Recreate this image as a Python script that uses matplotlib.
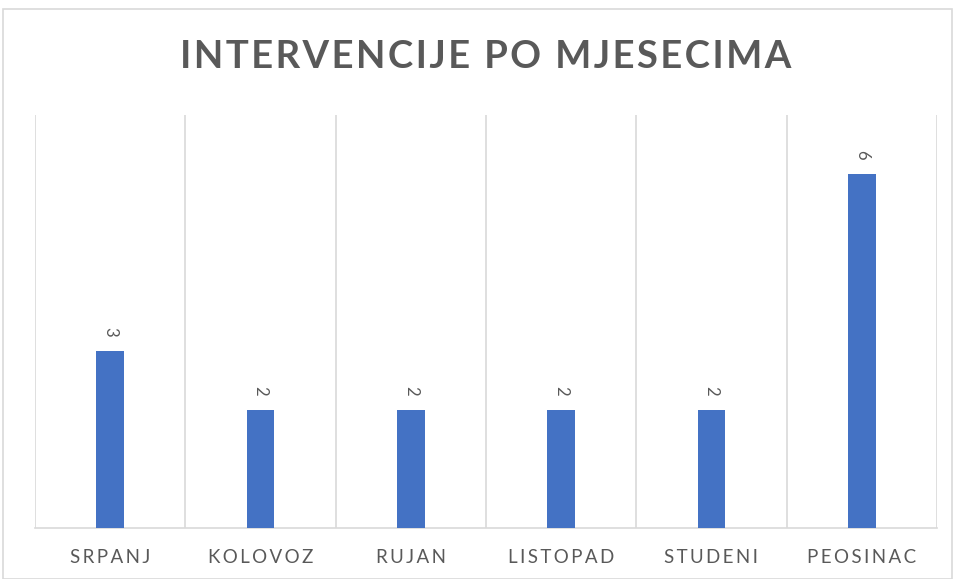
import matplotlib
matplotlib.use("Agg")
import matplotlib.pyplot as plt
from matplotlib.patches import Rectangle

months = ["SRPANJ", "KOLOVOZ", "RUJAN", "LISTOPAD", "STUDENI", "PEOSINAC"]
values = [3, 2, 2, 2, 2, 6]
title = "INTERVENCIJE PO MJESECIMA"

plt.rcParams['font.family'] = ['Lato', 'DejaVu Sans']

def spaced(s, sep="\u2009"):
    return sep.join(s)

fig = plt.figure(figsize=(9.55, 5.79), dpi=100)
fig.patches.append(Rectangle((3/955, 0), 949/955, 570/579, transform=fig.transFigure,
                             fill=False, edgecolor="#D9D9D9", linewidth=1.2))

ax = fig.add_axes([35/955, 51/579, 902/955, 413/579])
x = list(range(len(months)))
ax.bar(x, values, width=0.186, color="#4472C4", zorder=3)
ax.set_xlim(-0.5, len(months) - 0.5)
ax.set_ylim(0, 7)
for b in [i - 0.5 for i in range(len(months) + 1)]:
    ax.axvline(b, color="#D9D9D9", linewidth=1.2, zorder=1)
for s in ["top", "left", "right"]:
    ax.spines[s].set_visible(False)
ax.spines["bottom"].set_color("#D9D9D9")
ax.spines["bottom"].set_linewidth(1.2)
ax.set_yticks([])
ax.set_xticks(x)
ax.set_xticklabels([spaced(m) for m in months], fontsize=13.5, color="#595959")
ax.tick_params(axis="x", length=0, pad=15)

for xi, v in zip(x, values):
    ax.annotate(str(v), (xi, v), xytext=(0, 10), textcoords="offset points",
                ha="center", va="bottom", rotation=-90, fontsize=12, color="#595959")

fig.text(486/955, 1 - 57/579, spaced(title, "\u200a"), ha="center", va="center",
         fontsize=27.5, fontweight="bold", color="#595959")

fig.savefig("out.png", dpi=100)
